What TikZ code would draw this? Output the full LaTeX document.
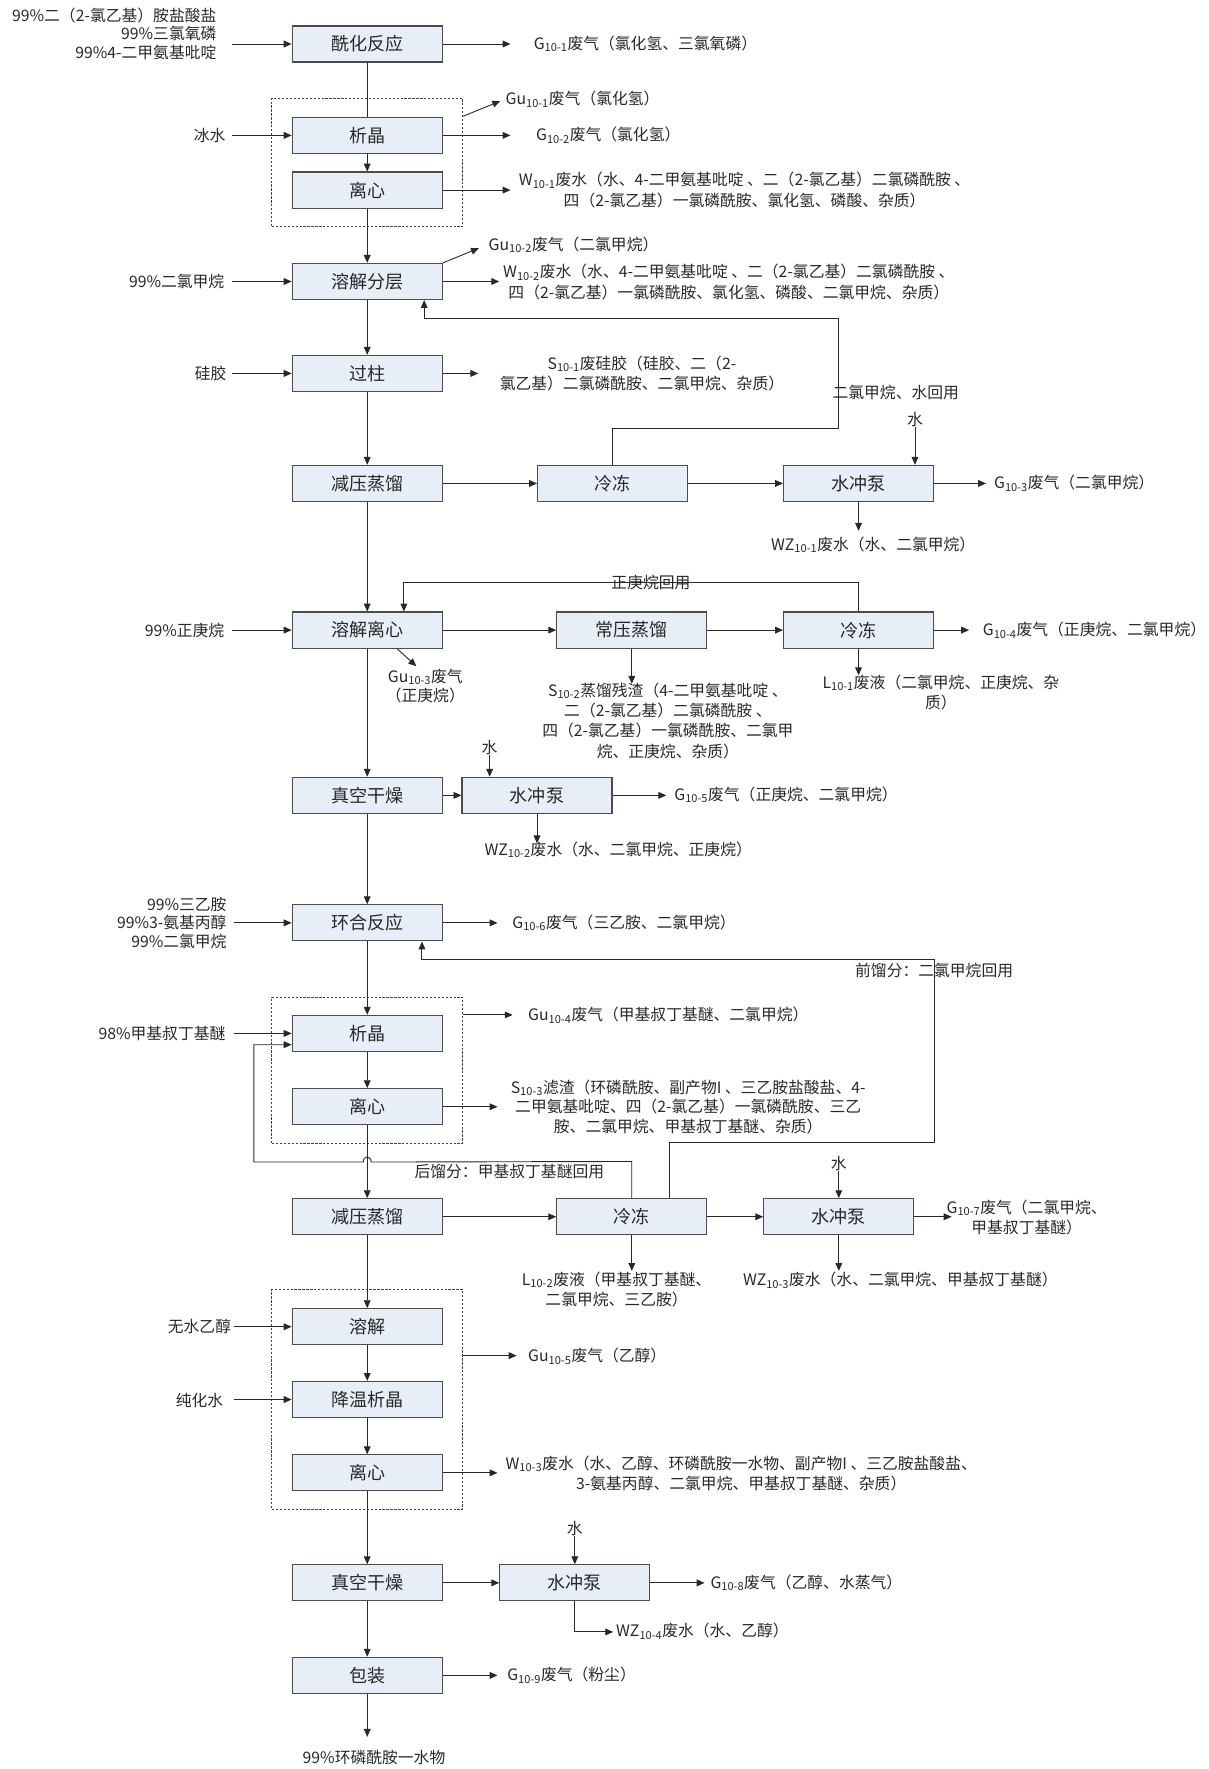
\documentclass[tikz,border=0pt]{standalone}
\usepackage{fontspec}
\setmainfont{Noto Sans CJK SC}
\usetikzlibrary{arrows.meta,calc}
\newcommand\sbs[1]{\textsubscript{#1}}
\definecolor{boxfill}{RGB}{232,238,248}
\definecolor{ink}{RGB}{40,40,40}
\begin{document}
\begin{tikzpicture}[x=1pt,y=-1pt,
  proc/.style={draw=black!70, line width=1pt, fill=boxfill, minimum width=133pt, minimum height=32pt, inner sep=0pt, font=\fontsize{16}{18}\selectfont, text=ink},
  lbl/.style={inner sep=0pt, font=\fontsize{14}{18}\selectfont, text=ink, align=center},
  inl/.style={inner sep=0pt, font=\fontsize{14}{16.5}\selectfont, text=ink, align=right, anchor=east},
  arr/.style={-{Triangle[length=7pt,width=6pt]}, line width=0.8pt, draw=ink},
  ln/.style={line width=0.8pt, draw=ink},
  grp/.style={draw=black!75, dash pattern=on 2pt off 1.5pt, line width=0.8pt, inner sep=0pt}
]
\useasboundingbox (0,0) rectangle (1071,1568);

% ---------- process boxes ----------
\node[proc] (A1) at (325.5,39) {酰化反应};
\node[proc] (A2) at (325.5,120) {析晶};
\node[proc] (A3) at (325.5,168.5) {离心};
\node[proc] (A4) at (325.5,249.5) {溶解分层};
\node[proc] (A5) at (325.5,331) {过柱};
\node[proc] (A6) at (325.5,428.5) {减压蒸馏};
\node[proc] (B6) at (543,428.5) {冷冻};
\node[proc] (C6) at (761,428.5) {水冲泵};
\node[proc] (A7) at (325.5,558.5) {溶解离心};
\node[proc] (B7) at (560,558.5) {常压蒸馏};
\node[proc] (C7) at (761,558.5) {冷冻};
\node[proc] (A8) at (325.5,705) {真空干燥};
\node[proc] (B8) at (476,705) {水冲泵};
\node[proc] (A9) at (325.5,818) {环合反应};
\node[proc] (A10) at (325.5,916) {析晶};
\node[proc] (A11) at (325.5,981) {离心};
\node[proc] (A12) at (325.5,1078.5) {减压蒸馏};
\node[proc] (B12) at (560,1078.5) {冷冻};
\node[proc] (C12) at (743.5,1078.5) {水冲泵};
\node[proc] (A13) at (325.5,1176) {溶解};
\node[proc] (A14) at (325.5,1240.5) {降温析晶};
\node[proc] (A15) at (325.5,1305.5) {离心};
\node[proc] (A16) at (325.5,1403) {真空干燥};
\node[proc] (B16) at (509.5,1403) {水冲泵};
\node[proc] (A17) at (325.5,1485) {包装};

% ---------- dashed groups ----------
\node[grp, minimum width=169pt, minimum height=114pt] (D1) at (325.5,144) {};
\node[grp, minimum width=169pt, minimum height=129.5pt] (D2) at (325.5,948.75) {};
\node[grp, minimum width=169pt, minimum height=195pt] (D3) at (325.5,1240.5) {};

% ---------- main vertical flow ----------
\draw[ln] (A1) -- (A2);
\draw[arr] (A2) -- (A3);
\draw[arr] (A3) -- (A4);
\draw[arr] (A4) -- (A5);
\draw[arr] (A5) -- (A6);
\draw[arr] (A6) -- (A7);
\draw[arr] (A7) -- (A8);
\draw[arr] (A8) -- (A9);
\draw[arr] (A9) -- (A10);
\draw[arr] (A10) -- (A11);
\draw[arr] (A11) -- (A12);
\draw[arr] (A12) -- (A13);
\draw[arr] (A13) -- (A14);
\draw[arr] (A14) -- (A15);
\draw[arr] (A15) -- (A16);
\draw[arr] (A16) -- (A17);
\node[lbl] (out) at (331.5,1557.5) {99\%环磷酰胺一水物};
\draw[arr] (A17.south) -- ++(0,38);

% ---------- horizontal chains ----------
\draw[arr] (A6) -- (B6);
\draw[arr] (B6) -- (C6);
\draw[arr] (A7) -- (B7);
\draw[arr] (B7) -- (C7);
\draw[arr] (A8) -- (B8);
\draw[arr] (A12) -- (B12);
\draw[arr] (B12) -- (C12);
\draw[arr] (A16) -- (B16);

% ---------- inputs ----------
\node[inl] (i1) at (192,30) {99\%二（2-氯乙基）胺盐酸盐\\99\%三氯氧磷\\99\%4-二甲氨基吡啶};
\draw[arr] ($(A1.west)+(-53,0)$) -- (A1.west);
\node[inl] (i2) at (200,120) {冰水};
\draw[arr] ($(A2.west)+(-53,0)$) -- (A2.west);
\node[inl] (i4) at (199,249.5) {99\%二氯甲烷};
\draw[arr] ($(A4.west)+(-53,0)$) -- (A4.west);
\node[inl] (i5) at (201,331) {硅胶};
\draw[arr] ($(A5.west)+(-53,0)$) -- (A5.west);
\node[inl] (i7) at (199,558.5) {99\%正庚烷};
\draw[arr] ($(A7.west)+(-53,0)$) -- (A7.west);
\node[inl] (i9) at (201,818) {99\%三乙胺\\99\%3-氨基丙醇\\99\%二氯甲烷};
\draw[arr] ($(A9.west)+(-51,0)$) -- (A9.west);
\node[inl] (i10) at (200,916) {98\%甲基叔丁基醚};
\draw[arr] ($(A10.west)+(-51,0)$) -- (A10.west);
\node[inl] (i13) at (205,1176) {无水乙醇};
\draw[arr] ($(A13.west)+(-51,0)$) -- (A13.west);
\node[inl] (i14) at (198,1241) {纯化水};
\draw[arr] ($(A14.west)+(-51,0)$) -- (A14.west);

% ---------- water inputs ----------
\node[lbl] (w6) at (811,372) {水};
\draw[arr] (w6.south) -- (w6.south |- C6.north);
\node[lbl] (w8) at (434,663) {水};
\draw[arr] (w8.south) -- (w8.south |- B8.north);
\node[lbl] (w12) at (743.5,1031) {水};
\draw[arr] (w12.south) -- (w12.south |- C12.north);
\node[lbl] (w16) at (509.5,1355) {水};
\draw[arr] (w16.south) -- (w16.south |- B16.north);

% ---------- outputs ----------
\draw[arr] (A1.east) -- ++(60,0);
\node[lbl, anchor=west] (o1) at (473,39) {G\sbs{10-1}废气（氯化氢、三氯氧磷）};
\draw[arr] ($(D1.north east)+(0,16.5)$) -- ++(33,-13.5);
\node[lbl, anchor=west] (o2) at (448,88) {Gu\sbs{10-1}废气（氯化氢）};
\draw[arr] (A2.east) -- ++(60,0);
\node[lbl, anchor=west] (o3) at (475,120) {G\sbs{10-2}废气（氯化氢）};
\draw[arr] (A3.east) -- ++(60,0);
\node[lbl] (o4) at (660,168.5) {W\sbs{10-1}废水（水、4-二甲氨基吡啶 、二（2-氯乙基）二氯磷酰胺 、\\四（2-氯乙基）一氯磷酰胺、氯化氢、磷酸、杂质）};
\draw[arr] (A4.north east) -- ++(32,-13);
\node[lbl, anchor=west] (o5) at (433,217) {Gu\sbs{10-2}废气（二氯甲烷）};
\draw[arr] (A4.east) -- ++(50,0);
\node[lbl] (o6) at (646,250) {W\sbs{10-2}废水（水、4-二甲氨基吡啶 、二（2-氯乙基）二氯磷酰胺 、\\四（2-氯乙基）一氯磷酰胺、氯化氢、磷酸、二氯甲烷、杂质）};
\draw[arr] (A5.east) -- ++(31.5,0);
\node[lbl] (o7) at (569,331) {S\sbs{10-1}废硅胶（硅胶、二（2-\\氯乙基）二氯磷酰胺、二氯甲烷、杂质）};
\draw[arr] (C6.east) -- ++(46,0);
\node[lbl, anchor=west] (o8) at (881,428.5) {G\sbs{10-3}废气（二氯甲烷）};
\draw[arr] (C6.south) -- ++(0,25.5);
\node[lbl] (o9) at (774,483) {WZ\sbs{10-1}废水（水、二氯甲烷）};

\draw[arr] (C7.east) -- ++(31,0);
\node[lbl, anchor=west] (o10) at (871,558.5) {G\sbs{10-4}废气（正庚烷、二氯甲烷）};
\draw[arr] ($(A7.south)+(26.5,0)$) -- ++(17,15.5);
\node[lbl, font=\fontsize{14}{16.5}\selectfont] (o11) at (377,608) {Gu\sbs{10-3}废气\\（正庚烷）};
\draw[arr] (B7.south) -- ++(0,31);
\node[lbl, anchor=north] (o12) at (592,605) {S\sbs{10-2}蒸馏残渣（4-二甲氨基吡啶 、\\二（2-氯乙基）二氯磷酰胺 、\\四（2-氯乙基）一氯磷酰胺、二氯甲\\烷、正庚烷、杂质）};
\draw[arr] (C7.south) -- ++(0,23.5);
\node[lbl, anchor=north] (o13) at (834,598) {L\sbs{10-1}废液（二氯甲烷、正庚烷、杂\\质）};

\draw[arr] (B8.east) -- ++(47.5,0);
\node[lbl, anchor=west] (o14) at (597.6,704.5) {G\sbs{10-5}废气（正庚烷、二氯甲烷）};
\draw[arr] (B8.south) -- ++(0,26);
\node[lbl, anchor=north] (o15) at (548,746) {WZ\sbs{10-2}废水（水、二氯甲烷、正庚烷）};

\draw[arr] (A9.east) -- ++(48.5,0);
\node[lbl, anchor=west] (o16) at (454,818) {G\sbs{10-6}废气（三乙胺、二氯甲烷）};
\draw[arr] ($(D2.north east)+(0,16)$) -- ++(44,0);
\node[lbl, anchor=west] (o17) at (468,900) {Gu\sbs{10-4}废气（甲基叔丁基醚、二氯甲烷）};
\draw[arr] (A11.east) -- ++(48.5,0);
\node[lbl, font=\fontsize{14}{17.5}\selectfont] (o18) at (610,981) {S\sbs{10-3}滤渣（环磷酰胺、副产物I 、三乙胺盐酸盐、4-\\二甲氨基吡啶、四（2-氯乙基）一氯磷酰胺、三乙\\胺、二氯甲烷、甲基叔丁基醚、杂质）};

\draw[arr] (C12.east) -- ++(33,0);
\node[lbl] (o19) at (910,1079) {G\sbs{10-7}废气（二氯甲烷、\\甲基叔丁基醚）};
\draw[arr] (B12.south) -- ++(0,31.5);
\node[lbl, anchor=north] (o20) at (546.5,1127) {L\sbs{10-2}废液（甲基叔丁基醚、\\二氯甲烷、三乙胺）};
\draw[arr] (C12.south) -- ++(0,31.5);
\node[lbl] (o21) at (798,1135) {WZ\sbs{10-3}废水（水、二氯甲烷、甲基叔丁基醚）};

\draw[arr] ($(D3.north east)+(0,59)$) -- ++(47.5,0);
\node[lbl, anchor=west] (o22) at (468,1202) {Gu\sbs{10-5}废气（乙醇）};
\draw[arr] (A15.east) -- ++(48.5,0);
\node[lbl] (o23) at (657,1306) {W\sbs{10-3}废水（水、乙醇、环磷酰胺一水物、副产物I 、三乙胺盐酸盐、\\3-氨基丙醇、二氯甲烷、甲基叔丁基醚、杂质）};

\draw[arr] (B16.east) -- ++(48,0);
\node[lbl, anchor=west] (o24) at (629.6,1403) {G\sbs{10-8}废气（乙醇、水蒸气）};
\draw[arr] (B16.south) -- ++(0,27) -- ++(34,0);
\node[lbl, anchor=west] (o25) at (546,1446) {WZ\sbs{10-4}废水（水、乙醇）};
\draw[arr] (A17.east) -- ++(48.5,0);
\node[lbl, anchor=west] (o26) at (449.5,1485) {G\sbs{10-9}废气（粉尘）};

% ---------- recycle loops ----------
\draw[arr] (B6.north) -- ++(0,-32.5) -| (743,282) -| ($(A4.south)+(50.5,0)$);
\node[lbl] (r1) at (794,347.5) {二氯甲烷、水回用};

\draw[arr] (C7.north) -- ++(0,-25.5) -| ($(A7.north)+(32.5,0)$);
\node[lbl] (r2) at (577,516) {正庚烷回用};

\draw[arr] ($(B12.north)+(33,0)$) -- ++(0,-49) -| (828,850) -| ($(A9.south)+(48.5,0)$);
\node[lbl] (r3) at (828,860) {前馏分：二氯甲烷回用};

\draw[arr] (B12.north) -- ++(0,-32.5) -- (329,1030) .. controls (329,1024) and (322,1024) .. (322,1030) -- (225,1030) |- ($(A10.west)+(0,10)$);
\node[lbl] (r4) at (451.5,1038) {后馏分：甲基叔丁基醚回用};
\end{tikzpicture}
\end{document}
